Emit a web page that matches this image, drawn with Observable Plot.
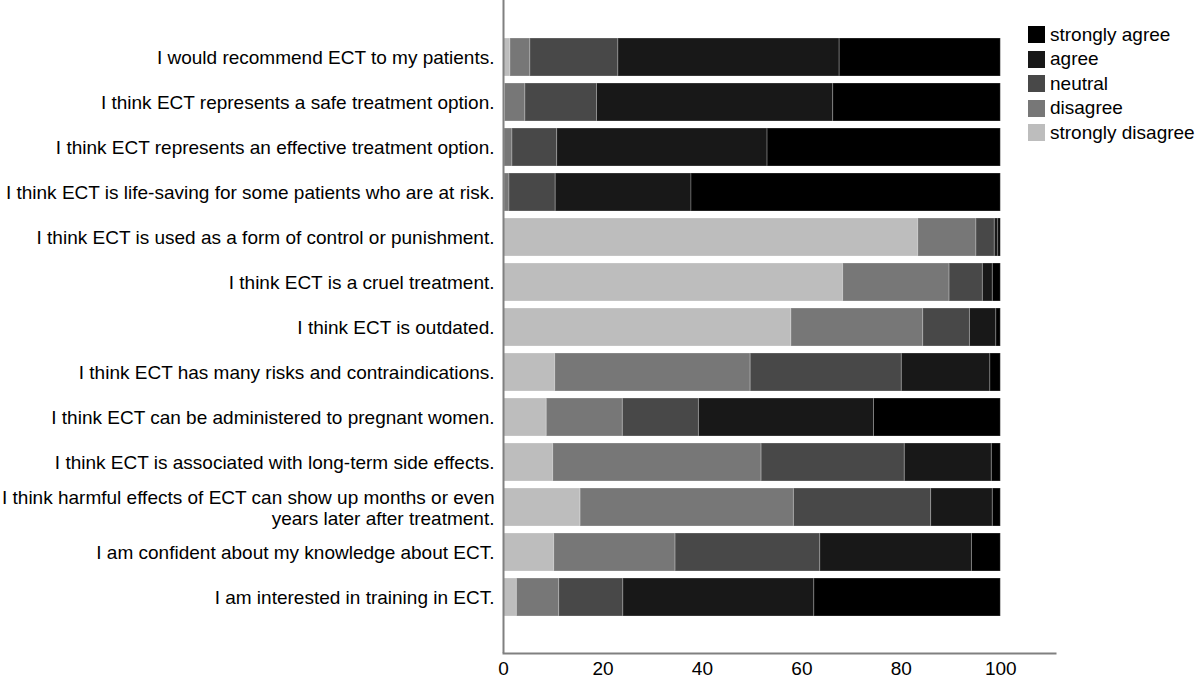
<!DOCTYPE html>
<html>
<head>
<meta charset="utf-8">
<script src="https://cdn.jsdelivr.net/npm/d3@7"></script>
<script src="https://cdn.jsdelivr.net/npm/@observablehq/plot@0.6"></script>
<style>
  body { margin: 0; background: #fff; font-family: "Liberation Sans", Arial, sans-serif; }
  #wrap { position: relative; width: 1200px; height: 681px; }
  #legend { position: absolute; left: 1028px; top: 22.5px; font-size: 19px; color: #000; }
  .row { display: flex; align-items: center; height: 24.5px; }
  .sw { width: 17px; height: 17px; margin-right: 5px; }
</style>
</head>
<body>
<div id="wrap"><div id="legend"></div></div>
<script>
const questions = [
  "I would recommend ECT to my patients.",
  "I think ECT represents a safe treatment option.",
  "I think ECT represents an effective treatment option.",
  "I think ECT is life-saving for some patients who are at risk.",
  "I think ECT is used as a form of control or punishment.",
  "I think ECT is a cruel treatment.",
  "I think ECT is outdated.",
  "I think ECT has many risks and contraindications.",
  "I think ECT can be administered to pregnant women.",
  "I think ECT is associated with long-term side effects.",
  "I think harmful effects of ECT can show up months or even years later after treatment.",
  "I am confident about my knowledge about ECT.",
  "I am interested in training in ECT."
];
const labelLines = {
  "I think harmful effects of ECT can show up months or even years later after treatment.":
    "I think harmful effects of ECT can show up months or even\nyears later after treatment."
};
const levels = ["strongly disagree", "disagree", "neutral", "agree", "strongly agree"];
const legendOrder = ["strongly agree", "agree", "neutral", "disagree", "strongly disagree"];
const colors = ["#bdbdbd", "#777777", "#484848", "#181818", "#000000"];

const stronglyDisagree = [1.4, 0.3, 0.2, 0.2, 83.4, 68.3, 57.9, 10.4, 8.7, 10.0, 15.5, 10.2, 2.7];
const disagree         = [4.0, 4.1, 1.6, 1.0, 11.7, 21.4, 26.5, 39.3, 15.3, 41.9, 42.9, 24.4, 8.5];
const neutral          = [17.7, 14.4, 9.0, 9.3, 3.7, 6.7, 9.4, 30.4, 15.3, 28.8, 27.6, 29.1, 12.9];
const agree            = [44.5, 47.5, 42.3, 27.3, 0.7, 2.0, 5.3, 17.8, 35.2, 17.5, 12.4, 30.5, 38.4];
const stronglyAgree    = [32.4, 33.7, 46.9, 62.2, 0.5, 1.6, 0.9, 2.1, 25.5, 1.8, 1.6, 5.8, 37.5];
const xTicks = [0, 20, 40, 60, 80, 100];

const series = [stronglyDisagree, disagree, neutral, agree, stronglyAgree];
const data = [];
questions.forEach((q, i) => {
  levels.forEach((lv, j) => data.push({question: q, level: lv, value: series[j][i]}));
});

const chart = Plot.plot({
  width: 1200,
  height: 681,
  marginLeft: 503,
  marginRight: 145,
  marginTop: 0,
  marginBottom: 28,
  style: {fontFamily: "Liberation Sans, Arial, sans-serif", background: "#fff"},
  x: {domain: [0, 111], ticks: xTicks, label: null},
  y: {domain: questions, range: [33.4, 620.6], paddingInner: 0.16, paddingOuter: 0.08, label: null},
  color: {domain: levels, range: colors},
  marks: [
    Plot.barX(data, Plot.stackX({
      x: "value", y: "question", fill: "level", order: levels,
      stroke: "#ffffff", strokeOpacity: 0.25, strokeWidth: 1, inset: 0
    })),
    Plot.ruleX([0], {stroke: "#808080", strokeWidth: 2}),
    Plot.frame({anchor: "bottom", stroke: "#808080", strokeWidth: 2}),
    Plot.axisX({ticks: xTicks, tickSize: 0, tickPadding: 8, fontSize: 19, label: null}),
    Plot.axisY({tickSize: 0, tickPadding: 9, fontSize: 19, lineHeight: 1.1, label: null,
      tickFormat: d => labelLines[d] || d})
  ]
});
document.getElementById("wrap").prepend(chart);

const legend = document.getElementById("legend");
legendOrder.forEach(lv => {
  const row = document.createElement("div");
  row.className = "row";
  const sw = document.createElement("div");
  sw.className = "sw";
  sw.style.background = colors[levels.indexOf(lv)];
  const t = document.createElement("span");
  t.textContent = lv;
  row.append(sw, t);
  legend.append(row);
});
</script>
</body>
</html>
